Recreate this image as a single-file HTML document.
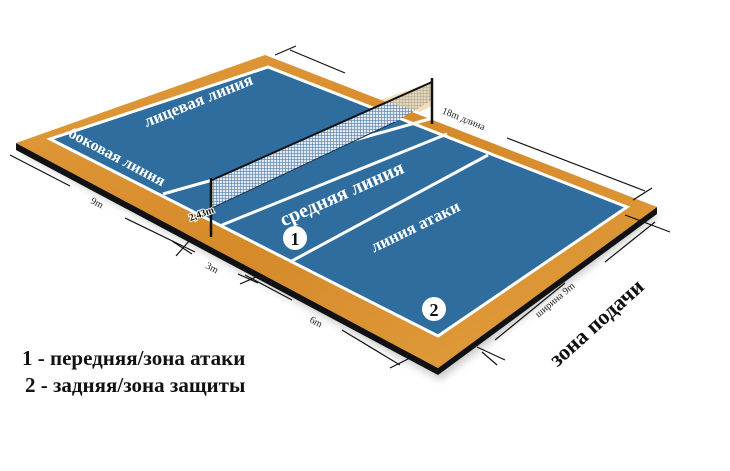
<!DOCTYPE html>
<html><head><meta charset="utf-8"><style>
html,body{margin:0;padding:0;background:#fff;width:730px;height:471px;overflow:hidden}
svg text{font-family:"Liberation Serif","DejaVu Serif",serif}
</style></head><body>
<svg width="730" height="471" viewBox="0 0 730 471" xmlns="http://www.w3.org/2000/svg">
<defs>
<linearGradient id="wood" x1="0" y1="0" x2="1" y2="1">
<stop offset="0" stop-color="#e09a3a"/><stop offset="0.5" stop-color="#d68a2a"/><stop offset="1" stop-color="#e2a040"/>
</linearGradient>
<pattern id="mesh" width="3" height="3" patternUnits="userSpaceOnUse">
<rect width="3" height="3" fill="#dfe8f0"/><path d="M0 0H3M0 0V3" stroke="#3c6a9a" stroke-width="1"/>
</pattern>
<filter id="sh" x="-10%" y="-10%" width="120%" height="130%"><feGaussianBlur stdDeviation="4"/></filter>
</defs>
<polygon points="20,152 268,62 660,215 440,380" fill="#999" opacity="0.5" filter="url(#sh)"/>
<polygon points="16,143 438,368 657,207 657,214 438,375 16,150" fill="#111"/>
<polygon points="16,143 265,55 657,207 438,368" fill="url(#wood)"/>
<polygon points="50,139 268,67 627,207 438,336" fill="#2f6d9e" stroke="#fff" stroke-width="3"/>
<line x1="163" y1="194" x2="433" y2="118" stroke="#fff" stroke-width="3"/>
<line x1="222" y1="225" x2="447" y2="134" stroke="#fff" stroke-width="3"/>
<line x1="290" y1="262" x2="488" y2="155" stroke="#fff" stroke-width="3"/>
<polygon points="212,180 432,82 432,100 395,122 212,208" fill="url(#mesh)"/>
<polygon points="380,100 432,82 432,106 420,112" fill="#e8c890" opacity="0.6"/>
<line x1="212" y1="180" x2="432" y2="82" stroke="#111" stroke-width="2"/>
<line x1="211" y1="178" x2="211" y2="237" stroke="#111" stroke-width="2.5"/>
<line x1="432" y1="78" x2="432" y2="124" stroke="#111" stroke-width="2.5"/>
<line x1="212" y1="208" x2="395" y2="122" stroke="#1b3a5a" stroke-width="1"/>
<text x="188" y="218" font-size="10" font-weight="bold" font-family="Liberation Sans" fill="#111" stroke="#fff" stroke-width="2" paint-order="stroke" transform="rotate(-20 198 213)">2,43m</text>
<g fill="#fff" font-weight="bold">
<text x="198" y="106" font-size="17" text-anchor="middle" transform="rotate(-22 198 100)">лицевая линия</text>
<text x="117" y="162" font-size="16" text-anchor="middle" transform="rotate(28 117 157)">боковая линия</text>
<text x="342" y="200" font-size="20" text-anchor="middle" transform="rotate(-24 342 194)">средняя линия</text>
<text x="415" y="232" font-size="17" text-anchor="middle" transform="rotate(-26 415 226)">линия атаки</text>
</g>
<circle cx="295" cy="238" r="12" fill="#fff"/>
<text x="295" y="245" font-size="18" font-weight="bold" text-anchor="middle" fill="#111">1</text>
<circle cx="434" cy="309" r="12" fill="#fff"/>
<text x="434" y="316" font-size="18" font-weight="bold" text-anchor="middle" fill="#111">2</text>
<g stroke="#111" stroke-width="1.2" fill="none">
<line x1="10" y1="155" x2="70" y2="186"/>
<line x1="125" y1="218" x2="195" y2="252"/>
<line x1="172" y1="241" x2="192" y2="254"/><line x1="176" y1="256" x2="190" y2="240"/>
<line x1="238" y1="274" x2="258" y2="283"/>
<line x1="240" y1="284" x2="256" y2="277"/>
<line x1="245" y1="275" x2="292" y2="300"/>
<line x1="342" y1="330" x2="400" y2="365"/>
<line x1="390" y1="368" x2="410" y2="358"/>
<line x1="275" y1="55" x2="296" y2="46"/>
<line x1="290" y1="50" x2="345" y2="73"/>
<line x1="507" y1="138" x2="645" y2="191"/>
<line x1="633" y1="200" x2="652" y2="188"/>
<line x1="625" y1="215" x2="670" y2="232"/>
<line x1="655" y1="222" x2="605" y2="262"/>
<line x1="565" y1="283" x2="495" y2="340"/>
<line x1="482" y1="352" x2="497" y2="365"/>
<line x1="477" y1="347" x2="505" y2="360"/>
</g>
<g fill="#222" font-family="Liberation Sans" font-size="10">
<text x="97" y="206" text-anchor="middle" transform="rotate(27 97 203)">9m</text>
<text x="212" y="271" text-anchor="middle" transform="rotate(27 212 268)">3m</text>
<text x="316" y="325" text-anchor="middle" transform="rotate(27 316 322)">6m</text>
<text x="464" y="122" text-anchor="middle" transform="rotate(22 464 118)">18m длина</text>
<text x="555" y="303" text-anchor="middle" transform="rotate(-40 555 300)">ширина 9m</text>
</g>
<text x="596" y="330" font-size="22" font-weight="bold" fill="#111" text-anchor="middle" transform="rotate(-42 596 322)">зона подачи</text>
<text x="22" y="365" font-size="21" font-weight="bold" fill="#111">1 - передняя/зона атаки</text>
<text x="25" y="392" font-size="21" font-weight="bold" fill="#111">2 - задняя/зона защиты</text>
</svg>
</body></html>
